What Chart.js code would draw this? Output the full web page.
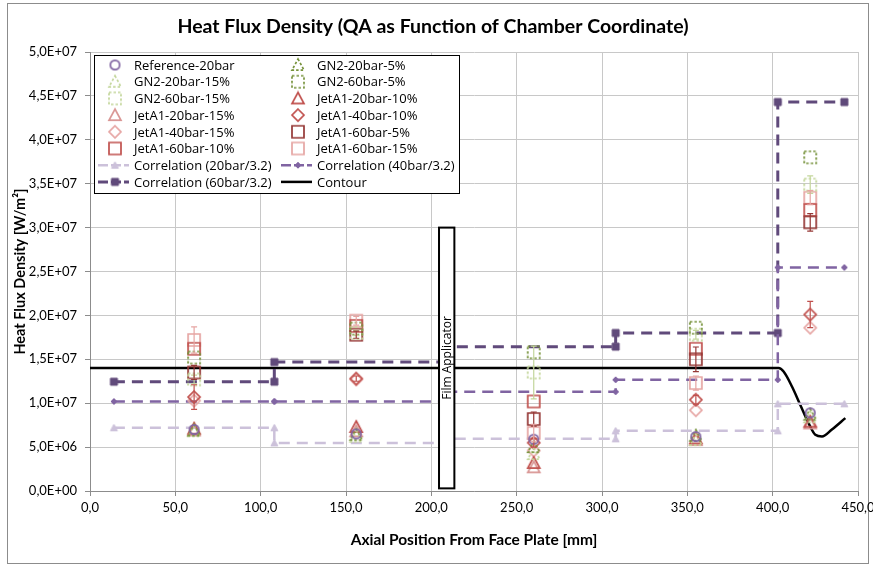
<!DOCTYPE html>
<html>
<head>
<meta charset="utf-8">
<script src="https://cdn.jsdelivr.net/npm/chart.js@4.4.0/dist/chart.umd.min.js"></script>
<style>
    html, body { margin: 0; padding: 0; background: #fff; }
    #wrap { position: relative; width: 873px; height: 567px; }
</style>
</head>
<body>
<div id="wrap"><canvas id="heatFluxChart" width="873" height="567"></canvas></div>
<script>
// Measurement stations along the chamber [mm]
const stationsX = [61, 156, 260, 355, 422];

// Measured heat flux [W/m²] at each station
const reference20bar = [0.70e7, 0.65e7, 0.59e7, 0.62e7, 0.89e7];
const gn2_20bar_5    = [0.69e7, 0.64e7, 0.50e7, 0.63e7, 0.87e7];
const gn2_20bar_15   = [0.68e7, 0.62e7, 0.42e7, 0.58e7, 0.84e7];
const gn2_60bar_5    = [1.52e7, 1.85e7, 1.58e7, 1.86e7, 3.80e7];
const gn2_60bar_15   = [1.27e7, 1.80e7, 1.35e7, 1.78e7, 3.49e7];
const jet_20bar_10   = [0.71e7, 0.73e7, 0.32e7, 0.60e7, 0.79e7];
const jet_20bar_15   = [0.69e7, 0.68e7, 0.27e7, 0.58e7, 0.77e7];
const jet_40bar_10   = [1.07e7, 1.28e7, 0.55e7, 1.04e7, 2.01e7];
const jet_40bar_15   = [1.03e7, 1.27e7, 0.46e7, 0.92e7, 1.86e7];
const jet_60bar_5    = [1.35e7, 1.78e7, 0.82e7, 1.50e7, 3.06e7];
const jet_60bar_10   = [1.62e7, 1.88e7, 1.02e7, 1.62e7, 3.20e7];
const jet_60bar_15   = [1.72e7, 1.94e7, 0.66e7, 1.23e7, 3.34e7];

// Error bar half-widths (only some series carry them)
const jet_40bar_10_err = [0.14e7, 0.03e7, 0.05e7, 0.05e7, 0.15e7];
const jet_60bar_5_err  = [0.08e7, 0.04e7, 0.08e7, 0.14e7, 0.10e7];
const jet_60bar_15_err = [0.15e7, 0.05e7, 0.10e7, 0.08e7, 0.08e7];
const gn2_60bar_15_err = [0.05e7, 0.03e7, 0.30e7, 0.05e7, 0.10e7];

// Correlations (stepped)
const corrX      = [14, 108, 108, 209, 209, 308, 308, 403, 403, 442];
const corr20bar  = [0.72e7, 0.72e7, 0.548e7, 0.548e7, 0.594e7, 0.594e7, 0.685e7, 0.685e7, 0.993e7, 0.993e7];
const corr40bar  = [1.02e7, 1.02e7, 1.02e7, 1.02e7, 1.13e7, 1.13e7, 1.267e7, 1.267e7, 2.546e7, 2.546e7];
const corr60bar  = [1.245e7, 1.245e7, 1.468e7, 1.468e7, 1.644e7, 1.644e7, 1.80e7, 1.80e7, 4.43e7, 4.43e7];

// Chamber contour (scaled)
const contourX = [0, 403.5, 406.4, 411.3, 416.2, 421.1, 425, 428.9, 434.7, 442.6];
const contourY = [1.40e7, 1.40e7, 1.36e7, 1.19e7, 0.98e7, 0.77e7, 0.64e7, 0.62e7, 0.70e7, 0.83e7];

// Axis ticks
const xTicks = [0, 50, 100, 150, 200, 250, 300, 350, 400, 450];
const yMax = 5e7, yStep = 5e6;

// Film applicator box (data units)
const filmBox = { x0: 204.5, x1: 213.5, y0: 0.03e7, y1: 3.0e7, label: 'Film Applicator' };

const FONT = 'Lato, "Open Sans", sans-serif';
const LEGEND_FONT = '"Open Sans", Lato, sans-serif';

// build a marker image so dashed outlines are possible
function makeMarker(shape, color, r, opts = {}) {
    const size = Math.ceil(r * 2 + 4);
    const c = document.createElement('canvas');
    c.width = size; c.height = size;
    const g = c.getContext('2d');
    const m = size / 2;
    g.strokeStyle = color;
    g.lineWidth = opts.lw || 1.7;
    if (opts.dashed) g.setLineDash([2.5, 2]);
    g.beginPath();
    if (shape === 'circle') {
        g.arc(m, m, r * 0.85, 0, Math.PI * 2);
    } else if (shape === 'square') {
        g.rect(m - r, m - r, r * 2, r * 2);
    } else if (shape === 'tri') {
        g.moveTo(m, m - r);
        g.lineTo(m + r, m + r * 0.85);
        g.lineTo(m - r, m + r * 0.85);
        g.closePath();
    } else if (shape === 'diamond') {
        g.moveTo(m, m - r);
        g.lineTo(m + r, m);
        g.lineTo(m, m + r);
        g.lineTo(m - r, m);
        g.closePath();
    }
    if (opts.fill) { g.fillStyle = opts.fill; g.fill(); }
    g.stroke();
    return c;
}

function pts(xs, ys) {
    return xs.map((x, i) => ({ x: x, y: ys[i] }));
}

function scatterSet(label, ys, shape, color, dashed, err) {
    return {
        label: label,
        data: pts(stationsX, ys),
        showLine: false,
        pointStyle: makeMarker(shape, color, shape === 'circle' ? 5.5 : 6, { dashed: dashed }),
        borderColor: color,
        backgroundColor: 'transparent',
        errors: err || null
    };
}

function lineSet(label, xs, ys, color, markerShape, mr, width) {
    return {
        label: label,
        data: pts(xs, ys),
        showLine: true,
        borderColor: color,
        borderWidth: width,
        borderDash: [11, 7],
        backgroundColor: color,
        pointStyle: makeMarker(markerShape, color, mr, { fill: color, lw: 1 }),
        tension: 0
    };
}

const datasets = [
    scatterSet('Reference-20bar', reference20bar, 'circle', '#8064A2', false),
    scatterSet('GN2-20bar-5%', gn2_20bar_5, 'tri', '#77933C', true),
    scatterSet('GN2-20bar-15%', gn2_20bar_15, 'tri', '#C3D69B', true),
    scatterSet('GN2-60bar-5%', gn2_60bar_5, 'square', '#77933C', true),
    scatterSet('GN2-60bar-15%', gn2_60bar_15, 'square', '#C3D69B', true, gn2_60bar_15_err),
    scatterSet('JetA1-20bar-10%', jet_20bar_10, 'tri', '#C0504D', false),
    scatterSet('JetA1-20bar-15%', jet_20bar_15, 'tri', '#D99694', false),
    scatterSet('JetA1-40bar-10%', jet_40bar_10, 'diamond', '#C0504D', false, jet_40bar_10_err),
    scatterSet('JetA1-40bar-15%', jet_40bar_15, 'diamond', '#E6A5A3', false),
    scatterSet('JetA1-60bar-5%', jet_60bar_5, 'square', '#953735', false, jet_60bar_5_err),
    scatterSet('JetA1-60bar-10%', jet_60bar_10, 'square', '#C0504D', false),
    scatterSet('JetA1-60bar-15%', jet_60bar_15, 'square', '#E6A5A3', false, jet_60bar_15_err),
    lineSet('Correlation (20bar/3.2)', corrX, corr20bar, '#CCC1DA', 'tri', 3.5, 2.5),
    lineSet('Correlation (40bar/3.2)', corrX, corr40bar, '#8064A2', 'diamond', 3, 2.5),
    lineSet('Correlation (60bar/3.2)', corrX, corr60bar, '#604A7B', 'square', 3.5, 3),
    {
        label: 'Contour',
        data: pts(contourX, contourY),
        showLine: true,
        borderColor: '#000000',
        borderWidth: 2.5,
        pointRadius: 0,
        cubicInterpolationMode: 'monotone',
        isContour: true
    }
];

function sciLabel(v) {
    if (v === 0) return '0,0E+00';
    const e = Math.floor(Math.log10(v) + 1e-9);
    const m = v / Math.pow(10, e);
    return m.toFixed(1).replace('.', ',') + 'E+' + String(e).padStart(2, '0');
}

// frame around the whole picture
const framePlugin = {
    id: 'frame',
    beforeDraw(chart) {
        const ctx = chart.ctx;
        ctx.save();
        ctx.fillStyle = '#fff';
        ctx.fillRect(0, 0, chart.width, chart.height);
        ctx.strokeStyle = '#8c8c8c';
        ctx.lineWidth = 1;
        ctx.strokeRect(7.5, 3.5, 861, 560);
        ctx.restore();
    }
};

// vertical error bars
const errorBarPlugin = {
    id: 'errorBars',
    afterDatasetsDraw(chart) {
        const ctx = chart.ctx;
        const ys = chart.scales.y;
        chart.data.datasets.forEach((ds, i) => {
            if (!ds.errors) return;
            const meta = chart.getDatasetMeta(i);
            ctx.save();
            ctx.strokeStyle = ds.borderColor;
            ctx.lineWidth = 1.2;
            meta.data.forEach((pt, j) => {
                const e = ds.errors[j];
                if (!e) return;
                const v = ds.data[j].y;
                const top = ys.getPixelForValue(v + e);
                const bot = ys.getPixelForValue(v - e);
                ctx.beginPath();
                ctx.moveTo(pt.x, top); ctx.lineTo(pt.x, bot);
                ctx.moveTo(pt.x - 3, top); ctx.lineTo(pt.x + 3, top);
                ctx.moveTo(pt.x - 3, bot); ctx.lineTo(pt.x + 3, bot);
                ctx.stroke();
            });
            ctx.restore();
        });
    }
};

// film applicator box with rotated label
const filmPlugin = {
    id: 'filmBox',
    afterDatasetsDraw(chart) {
        const ctx = chart.ctx;
        const xs = chart.scales.x, ys = chart.scales.y;
        const l = xs.getPixelForValue(filmBox.x0), r = xs.getPixelForValue(filmBox.x1);
        const t = ys.getPixelForValue(filmBox.y1), b = ys.getPixelForValue(filmBox.y0);
        ctx.save();
        ctx.fillStyle = '#fff';
        ctx.fillRect(l, t, r - l, b - t);
        ctx.strokeStyle = '#000';
        ctx.lineWidth = 2;
        ctx.strokeRect(l, t, r - l, b - t);
        ctx.translate((l + r) / 2, (t + b) / 2);
        ctx.rotate(-Math.PI / 2);
        ctx.fillStyle = '#000';
        ctx.font = '12px ' + LEGEND_FONT;
        ctx.textAlign = 'center';
        ctx.textBaseline = 'middle';
        ctx.fillText(filmBox.label, 0, 1);
        ctx.restore();
    }
};

// two-column legend inside the plot, top-left
const legendPlugin = {
    id: 'boxLegend',
    afterDraw(chart) {
        const ctx = chart.ctx;
        const area = chart.chartArea;
        const left = area.left + 4, top = area.top + 3;
        const w = 365, h = 138, rowH = 16.7;
        const colX = [left, left + 183];
        ctx.save();
        ctx.fillStyle = '#fff';
        ctx.fillRect(left, top, w, h);
        ctx.strokeStyle = '#000';
        ctx.lineWidth = 1;
        ctx.strokeRect(left + 0.5, top + 0.5, w, h);
        ctx.font = '13px ' + LEGEND_FONT;
        ctx.textBaseline = 'middle';
        ctx.fillStyle = '#000';
        chart.data.datasets.forEach((ds, i) => {
            const cx = colX[i % 2];
            const cy = top + 10 + Math.floor(i / 2) * rowH;
            const mx = cx + 21;
            if (ds.showLine) {
                ctx.save();
                ctx.strokeStyle = ds.borderColor;
                ctx.lineWidth = ds.borderWidth;
                if (!ds.isContour) ctx.setLineDash([10, 3]);
                ctx.beginPath();
                ctx.moveTo(cx + 4, cy); ctx.lineTo(cx + 35, cy);
                ctx.stroke();
                ctx.restore();
            }
            if (ds.pointStyle instanceof HTMLCanvasElement) {
                const img = ds.pointStyle;
                ctx.drawImage(img, mx - img.width / 2, cy - img.height / 2);
            }
            ctx.fillText(ds.label, cx + 40, cy + 1);
        });
        ctx.restore();
    }
};

const ctx = document.getElementById('heatFluxChart').getContext('2d');
new Chart(ctx, {
    type: 'scatter',
    data: { datasets: datasets },
    plugins: [framePlugin, errorBarPlugin, filmPlugin, legendPlugin],
    options: {
        responsive: false,
        animation: false,
        layout: { padding: { left: 8, right: 15, top: 0, bottom: 14 } },
        plugins: {
            legend: { display: false },
            tooltip: { enabled: false },
            title: {
                display: true,
                text: 'Heat Flux Density (QA as Function of Chamber Coordinate)',
                color: '#000',
                font: { family: FONT, size: 19.5, weight: 'bold' },
                padding: { top: 15, bottom: 13.6 }
            }
        },
        elements: { point: { radius: 6 } },
        scales: {
            x: {
                type: 'linear',
                min: 0,
                max: 450,
                afterBuildTicks: (s) => { s.ticks = xTicks.map(v => ({ value: v })); },
                afterFit: (s) => { s.height = 62; s.paddingLeft = 0; s.paddingRight = 0; },
                grid: { color: '#c8c8c8', tickColor: '#8c8c8c', tickLength: 5 },
                border: { color: '#8c8c8c' },
                ticks: {
                    color: '#000',
                    padding: 4,
                    maxRotation: 0,
                    font: { family: FONT, size: 13 },
                    callback: (v) => v.toFixed(1).replace('.', ',')
                },
                title: {
                    display: true,
                    text: 'Axial Position From Face Plate [mm]',
                    color: '#000',
                    font: { family: FONT, size: 15.5, weight: 'bold' }
                }
            },
            y: {
                type: 'linear',
                min: 0,
                max: yMax,
                afterFit: (s) => { s.width = 82; s.paddingTop = 0; s.paddingBottom = 0; },
                grid: { color: '#c8c8c8', tickColor: '#8c8c8c', tickLength: 5 },
                border: { color: '#8c8c8c' },
                ticks: {
                    stepSize: yStep,
                    color: '#000',
                    padding: 8,
                    font: { family: FONT, size: 13 },
                    callback: (v) => sciLabel(v)
                },
                title: {
                    display: true,
                    text: 'Heat Flux Density [W/m²]',
                    color: '#000',
                    font: { family: FONT, size: 14.5, weight: 'bold' }
                }
            }
        }
    }
});
</script>
</body>
</html>
